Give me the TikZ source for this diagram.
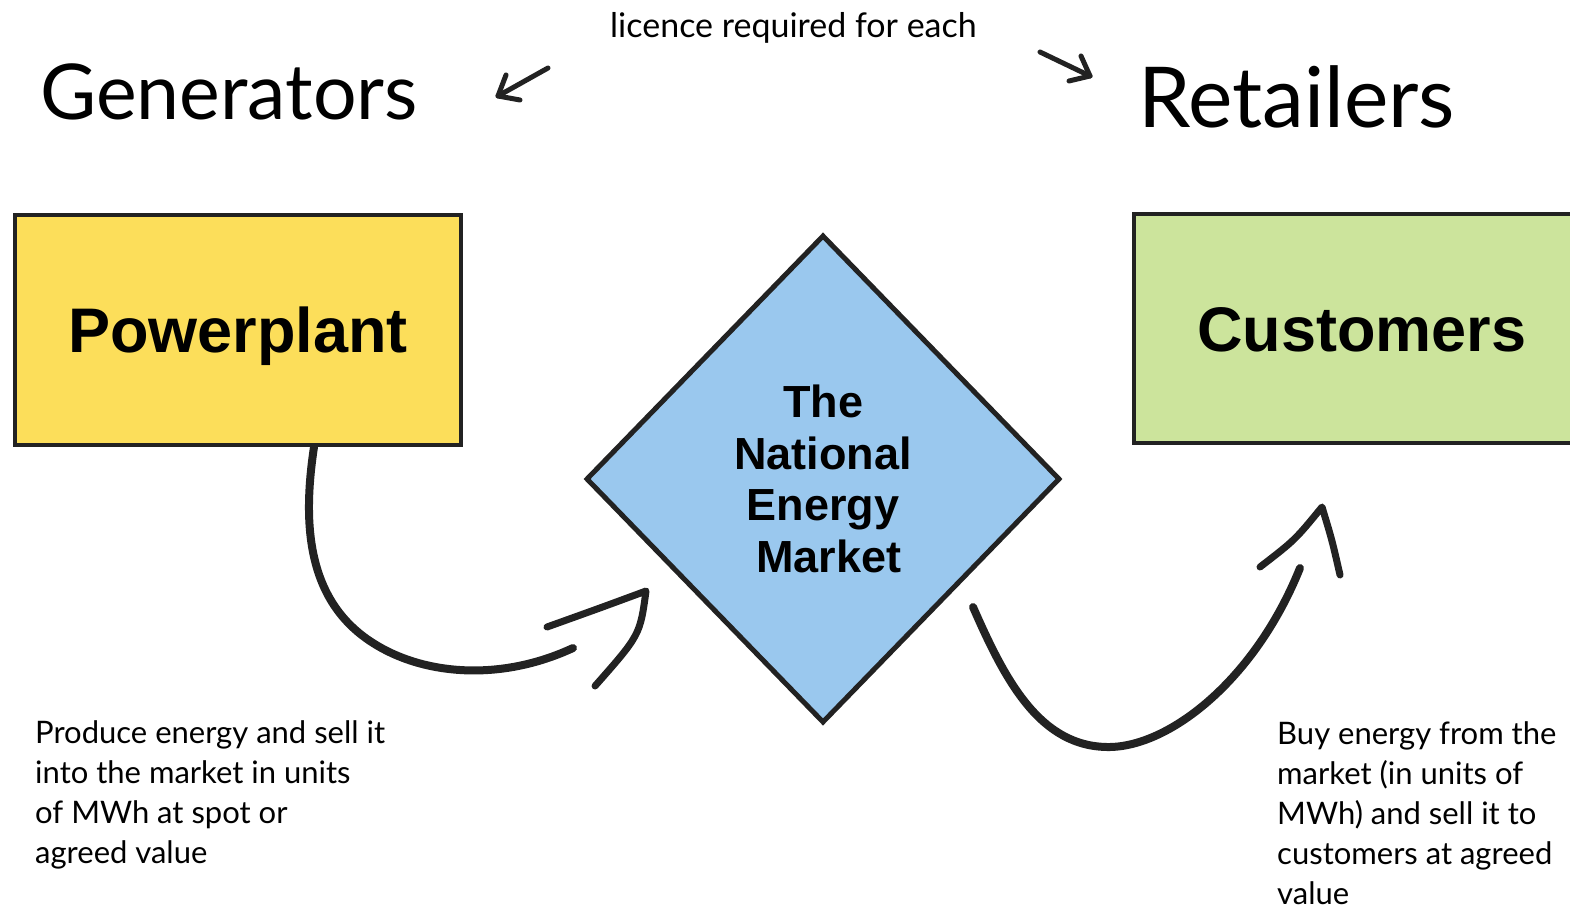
\documentclass[tikz,border=0pt]{standalone}
\usepackage{fontspec}
\usetikzlibrary{shapes.geometric,calc}
\newfontfamily\boxfont{Liberation Sans}
\newfontfamily\hand{Lato}
\definecolor{ppyellow}{HTML}{FCDE5A}
\definecolor{custgreen}{HTML}{CCE49C}
\definecolor{marketblue}{HTML}{9AC8EE}
\definecolor{ink}{HTML}{222222}
\begin{document}
\begin{tikzpicture}[x=1pt,y=-1pt,
  box/.style={draw=ink,line width=4pt,rectangle,inner sep=0pt,
    font=\boxfont\bfseries\fontsize{63}{70}\selectfont,
    text height=45pt,text depth=0pt},
  market/.style={draw=ink,line width=5pt,diamond,fill=marketblue,inner sep=0pt,
    align=center,font=\boxfont\bfseries\fontsize{45}{51.5}\selectfont},
  title/.style={anchor=base west,inner sep=0pt},
  note/.style={anchor=north west,inner sep=0pt,align=left,font=\hand\fontsize{31}{40}\selectfont},
  flow/.style={draw=ink,line width=8pt,line cap=round,line join=round},
  head/.style={draw=ink,line width=7pt,line cap=round,line join=round},
  pointer/.style={draw=ink,line width=5pt,line cap=round,line join=round}]
\useasboundingbox (0,0) rectangle (1570,909);

% headings
\node[title,font=\hand\fontsize{77}{90}\selectfont] (gen) at (40,120) {Generators};
\node[title,font=\hand\fontsize{84}{90}\selectfont] (ret) at (1138,128) {Retailers};
\node[title,font=\hand\fontsize{34}{40}\selectfont] (lic) at (610,38) {licence required for each};

% small pointers from the licence label
\draw[pointer] (548,68) -- (498,96);
\draw[pointer] (520,100) -- (498,96) -- (506,75);
\draw[pointer] (1040,52) -- (1090,76);
\draw[pointer] (1081,56) -- (1090,76) -- (1069,81);

% the three parties
\node[box,fill=ppyellow,minimum width=446pt,minimum height=230pt] (pp) at (238,330) {Powerplant};
\node[box,fill=custgreen,minimum width=456pt,minimum height=229pt] (cust) at (1362,328.5) {Customers};
\node[market,minimum width=474pt,minimum height=488pt] (nem) at (823,479) {The\\National\\Energy\\\hspace*{12pt}Market};

% flow from the powerplant into the market
\coordinate (ppout) at ([xshift=76pt]pp.south);
\coordinate (nemin) at (573,648);
\draw[flow] (ppout) .. controls (303,520) and (305,600) .. (373,643)
  .. controls (423,675) and (500,682) .. (nemin);
\draw[head] (547,627) .. controls (600,608) .. (646,591)
  .. controls (640,635) .. (595,686);

% flow from the market out to the customers
\coordinate (nemout) at (973,607);
\coordinate (custin) at (1300,568);
\draw[flow] (nemout) .. controls (1005,680) and (1040,748) .. (1110,747)
  .. controls (1170,746) and (1255,680) .. (custin);
\draw[head] (1260,567) .. controls (1295,540) .. (1322,507)
  .. controls (1332,540) .. (1340,575);

% notes
\node[note] (gennote) at (35,720) {Produce energy and sell it\\into the market in units\\of MWh at spot or\\agreed value};
\node[note] (retnote) at (1277,721) {Buy energy from the\\market (in units of\\MWh) and sell it to\\customers at agreed\\value};
\end{tikzpicture}
\end{document}
